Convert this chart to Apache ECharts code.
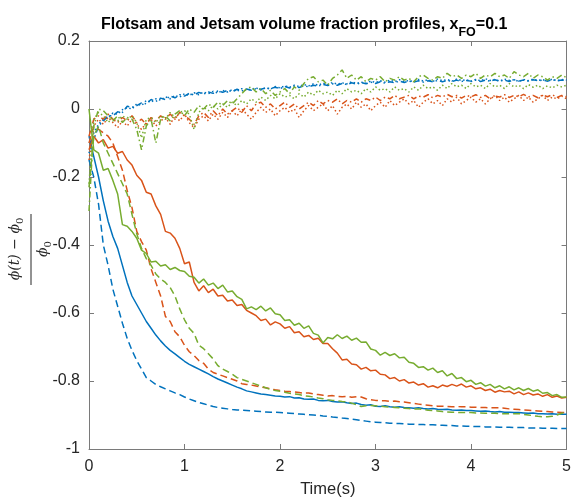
<!DOCTYPE html>
<html><head><meta charset="utf-8">
<script src="https://cdn.jsdelivr.net/npm/echarts@6/dist/echarts.min.js"></script>
<style>html,body{margin:0;padding:0;background:#fff}#c{width:574px;height:503px}</style>
</head><body><div id="c"></div>
<script>
const time = [
0,0.05,0.1,0.15,0.2,0.25,0.3,0.35,0.4,0.45,
0.5,0.55,0.6,0.65,0.7,0.75,0.8,0.85,0.9,0.95,
1,1.05,1.1,1.15,1.2,1.25,1.3,1.35,1.4,1.45,
1.5,1.55,1.6,1.65,1.7,1.75,1.8,1.85,1.9,1.95,
2,2.05,2.1,2.15,2.2,2.25,2.3,2.35,2.4,2.45,
2.5,2.55,2.6,2.65,2.7,2.75,2.8,2.85,2.9,2.95,
3,3.05,3.1,3.15,3.2,3.25,3.3,3.35,3.4,3.45,
3.5,3.55,3.6,3.65,3.7,3.75,3.8,3.85,3.9,3.95,
4,4.05,4.1,4.15,4.2,4.25,4.3,4.35,4.4,4.45,
4.5,4.55,4.6,4.65,4.7,4.75,4.8,4.85,4.9,4.95,
5];

// Jetsam (decreasing) profiles
const blueSolid = [
-0.08,-0.14,-0.20,-0.27,-0.33,-0.375,-0.41,-0.46,-0.51,-0.55,
-0.575,-0.60,-0.625,-0.645,-0.665,-0.682,-0.697,-0.71,-0.72,-0.731,
-0.742,-0.751,-0.758,-0.765,-0.772,-0.779,-0.787,-0.794,-0.80,-0.806,
-0.812,-0.818,-0.823,-0.829,-0.832,-0.835,-0.838,-0.84,-0.842,-0.844,
-0.845,-0.847,-0.846,-0.85,-0.849,-0.853,-0.854,-0.853,-0.857,-0.858,
-0.857,-0.86,-0.862,-0.861,-0.864,-0.866,-0.865,-0.869,-0.871,-0.87,
-0.874,-0.875,-0.873,-0.876,-0.877,-0.876,-0.878,-0.879,-0.88,-0.879,
-0.881,-0.882,-0.881,-0.883,-0.884,-0.883,-0.885,-0.886,-0.885,-0.887,
-0.887,-0.888,-0.889,-0.888,-0.89,-0.891,-0.89,-0.892,-0.892,-0.893,
-0.893,-0.894,-0.895,-0.894,-0.896,-0.896,-0.897,-0.896,-0.898,-0.898,
-0.898];
const blueDashed = [
-0.15,-0.20,-0.28,-0.40,-0.46,-0.53,-0.58,-0.63,-0.675,-0.71,
-0.74,-0.765,-0.79,-0.80,-0.81,-0.817,-0.823,-0.829,-0.835,-0.84,
-0.847,-0.853,-0.858,-0.863,-0.867,-0.871,-0.875,-0.878,-0.88,-0.882,
-0.884,-0.885,-0.886,-0.887,-0.888,-0.889,-0.89,-0.891,-0.892,-0.892,
-0.893,-0.894,-0.895,-0.896,-0.897,-0.898,-0.899,-0.90,-0.901,-0.903,
-0.904,-0.906,-0.907,-0.909,-0.91,-0.912,-0.914,-0.916,-0.918,-0.92,
-0.921,-0.922,-0.923,-0.924,-0.925,-0.925,-0.926,-0.927,-0.927,-0.928,
-0.928,-0.929,-0.929,-0.93,-0.93,-0.931,-0.931,-0.932,-0.932,-0.933,
-0.933,-0.934,-0.934,-0.935,-0.935,-0.935,-0.936,-0.936,-0.936,-0.937,
-0.937,-0.937,-0.938,-0.938,-0.938,-0.939,-0.939,-0.939,-0.94,-0.94,
-0.94];
const orangeSolid = [
-0.12,-0.08,-0.10,-0.09,-0.115,-0.11,-0.13,-0.125,-0.15,-0.165,
-0.195,-0.21,-0.245,-0.25,-0.285,-0.31,-0.36,-0.365,-0.38,-0.41,
-0.455,-0.45,-0.51,-0.535,-0.52,-0.54,-0.53,-0.55,-0.548,-0.565,
-0.562,-0.578,-0.575,-0.592,-0.60,-0.608,-0.622,-0.618,-0.635,-0.626,
-0.632,-0.645,-0.64,-0.658,-0.655,-0.67,-0.666,-0.678,-0.674,-0.69,
-0.69,-0.705,-0.718,-0.738,-0.736,-0.75,-0.752,-0.765,-0.76,-0.77,
-0.768,-0.78,-0.782,-0.793,-0.79,-0.80,-0.796,-0.806,-0.803,-0.812,
-0.808,-0.818,-0.814,-0.82,-0.812,-0.816,-0.81,-0.815,-0.809,-0.818,
-0.814,-0.823,-0.82,-0.828,-0.824,-0.833,-0.828,-0.832,-0.83,-0.838,
-0.832,-0.84,-0.835,-0.841,-0.838,-0.845,-0.84,-0.848,-0.844,-0.85,
-0.848];
const orangeDashed = [
-0.10,-0.05,-0.06,-0.07,-0.08,-0.10,-0.14,-0.18,-0.24,-0.29,
-0.36,-0.39,-0.415,-0.47,-0.51,-0.55,-0.61,-0.625,-0.655,-0.67,
-0.695,-0.714,-0.725,-0.74,-0.748,-0.765,-0.775,-0.78,-0.785,-0.79,
-0.795,-0.80,-0.808,-0.81,-0.812,-0.815,-0.818,-0.82,-0.823,-0.826,
-0.828,-0.83,-0.831,-0.832,-0.834,-0.836,-0.835,-0.838,-0.84,-0.842,
-0.844,-0.843,-0.845,-0.846,-0.845,-0.848,-0.846,-0.847,-0.852,-0.855,
-0.857,-0.858,-0.858,-0.86,-0.859,-0.861,-0.862,-0.864,-0.866,-0.868,
-0.87,-0.871,-0.873,-0.874,-0.874,-0.875,-0.876,-0.875,-0.876,-0.876,
-0.877,-0.877,-0.878,-0.878,-0.879,-0.879,-0.879,-0.88,-0.882,-0.883,
-0.884,-0.885,-0.886,-0.887,-0.888,-0.889,-0.89,-0.891,-0.892,-0.893,
-0.893];
const greenSolid = [
0.0,-0.12,-0.13,-0.18,-0.175,-0.21,-0.25,-0.34,-0.345,-0.36,
-0.38,-0.415,-0.425,-0.45,-0.448,-0.462,-0.458,-0.472,-0.466,-0.475,
-0.478,-0.492,-0.495,-0.512,-0.50,-0.518,-0.512,-0.528,-0.518,-0.538,
-0.535,-0.552,-0.56,-0.588,-0.582,-0.59,-0.58,-0.594,-0.585,-0.602,
-0.605,-0.622,-0.62,-0.636,-0.63,-0.645,-0.638,-0.66,-0.665,-0.688,
-0.672,-0.676,-0.664,-0.675,-0.668,-0.68,-0.674,-0.686,-0.685,-0.706,
-0.71,-0.724,-0.716,-0.725,-0.72,-0.732,-0.73,-0.745,-0.748,-0.76,
-0.758,-0.768,-0.762,-0.775,-0.77,-0.785,-0.778,-0.793,-0.79,-0.802,
-0.798,-0.81,-0.805,-0.815,-0.81,-0.82,-0.814,-0.823,-0.817,-0.826,
-0.82,-0.828,-0.822,-0.83,-0.826,-0.836,-0.834,-0.843,-0.84,-0.848,
-0.847];
const greenDashed = [
-0.23,-0.08,-0.05,-0.10,-0.13,-0.16,-0.19,-0.22,-0.25,-0.31,
-0.367,-0.41,-0.44,-0.46,-0.485,-0.50,-0.51,-0.525,-0.55,-0.588,
-0.62,-0.645,-0.66,-0.695,-0.705,-0.72,-0.735,-0.755,-0.765,-0.772,
-0.78,-0.79,-0.795,-0.80,-0.805,-0.81,-0.815,-0.82,-0.825,-0.828,
-0.83,-0.833,-0.836,-0.838,-0.84,-0.843,-0.845,-0.847,-0.85,-0.852,
-0.855,-0.857,-0.858,-0.86,-0.861,-0.865,-0.87,-0.875,-0.873,-0.872,
-0.873,-0.874,-0.876,-0.877,-0.878,-0.879,-0.88,-0.881,-0.882,-0.882,
-0.884,-0.886,-0.887,-0.888,-0.89,-0.891,-0.892,-0.892,-0.893,-0.893,
-0.893,-0.894,-0.894,-0.895,-0.895,-0.895,-0.896,-0.896,-0.896,-0.896,
-0.896,-0.898,-0.90,-0.902,-0.904,-0.905,-0.905,-0.904,-0.90,-0.895,
-0.89];

// Flotsam (increasing) profiles
const blueDotted = [
-0.13,-0.07,-0.045,-0.03,-0.025,-0.012,-0.015,-0.002,0.004,0.0,
0.015,0.01,0.025,0.02,0.03,0.026,0.036,0.03,0.04,0.035,
0.045,0.04,0.048,0.042,0.05,0.045,0.052,0.047,0.055,0.05,
0.057,0.052,0.06,0.055,0.058,0.062,0.056,0.063,0.058,0.066,
0.062,0.068,0.064,0.07,0.066,0.072,0.068,0.074,0.07,0.076,
0.072,0.078,0.073,0.077,0.074,0.08,0.075,0.079,0.076,0.082,
0.078,0.083,0.079,0.085,0.08,0.086,0.081,0.084,0.08,0.087,
0.082,0.086,0.081,0.088,0.083,0.087,0.082,0.088,0.084,0.086,
0.081,0.087,0.083,0.089,0.084,0.087,0.082,0.088,0.084,0.086,
0.081,0.087,0.083,0.088,0.084,0.086,0.082,0.088,0.083,0.087,
0.085];
const blueDashDot = [
-0.10,-0.09,-0.05,-0.035,-0.02,-0.02,-0.008,-0.01,0.008,0.005,
0.01,0.018,0.015,0.028,0.022,0.032,0.028,0.038,0.033,0.042,
0.038,0.046,0.041,0.049,0.044,0.05,0.046,0.053,0.049,0.055,
0.051,0.058,0.053,0.059,0.055,0.06,0.058,0.062,0.06,0.064,
0.06,0.066,0.062,0.067,0.063,0.069,0.065,0.07,0.067,0.072,
0.069,0.074,0.07,0.075,0.072,0.077,0.073,0.078,0.074,0.079,
0.075,0.08,0.076,0.08,0.077,0.082,0.078,0.082,0.079,0.083,
0.079,0.083,0.08,0.084,0.08,0.084,0.081,0.085,0.081,0.084,
0.082,0.085,0.081,0.085,0.082,0.086,0.082,0.085,0.081,0.086,
0.082,0.085,0.082,0.086,0.083,0.085,0.082,0.086,0.083,0.085,
0.084];
const orangeDotted = [
-0.15,-0.05,-0.03,-0.045,-0.025,-0.04,-0.055,-0.035,-0.05,-0.03,
-0.045,-0.06,-0.04,-0.03,-0.05,-0.035,-0.025,-0.045,-0.02,-0.035,
-0.015,-0.04,-0.055,-0.03,-0.02,-0.035,-0.015,-0.03,-0.01,-0.025,
-0.005,-0.02,0.0,-0.015,-0.03,-0.01,0.005,-0.01,0.0,-0.02,
-0.005,0.005,-0.01,0.0,-0.025,-0.005,0.01,-0.005,0.005,0.015,
-0.005,0.01,-0.015,0.005,0.015,0.0,0.02,0.005,0.015,-0.005,
0.01,0.02,0.005,0.025,0.01,0.02,0.03,0.015,0.025,0.005,
0.02,0.03,0.015,0.025,0.01,0.03,0.02,0.035,0.015,0.025,
0.035,0.02,0.03,0.015,0.03,0.04,0.025,0.035,0.02,0.03,
0.04,0.025,0.035,0.02,0.03,0.04,0.025,0.035,0.03,0.038,
0.03];
const orangeDashDot = [
-0.08,-0.03,-0.02,-0.03,-0.015,-0.03,-0.04,-0.025,-0.035,-0.02,
-0.04,-0.03,-0.045,-0.025,-0.035,-0.02,-0.03,-0.015,-0.03,-0.01,
-0.02,-0.03,-0.045,-0.02,-0.01,-0.025,-0.005,-0.02,0.0,-0.015,
-0.005,0.005,-0.01,0.01,-0.005,0.015,0.02,0.005,0.015,0.0,
0.01,0.02,0.005,0.015,0.0,0.01,0.02,0.01,0.025,0.015,
0.025,0.02,0.03,0.015,0.025,0.02,0.03,0.02,0.03,0.025,
0.035,0.025,0.035,0.03,0.04,0.03,0.035,0.04,0.03,0.038,
0.035,0.042,0.033,0.04,0.035,0.043,0.036,0.04,0.032,0.04,
0.036,0.042,0.034,0.04,0.03,0.038,0.035,0.042,0.034,0.04,
0.036,0.043,0.035,0.04,0.033,0.041,0.036,0.042,0.034,0.04,
0.036];
const greenDotted = [
-0.22,-0.03,-0.01,-0.02,-0.04,-0.025,-0.035,-0.02,-0.03,-0.02,
-0.04,-0.085,-0.03,-0.025,-0.04,-0.02,-0.03,-0.01,-0.025,-0.01,
-0.005,-0.015,-0.06,-0.01,0.005,-0.005,0.01,0.0,0.015,0.005,
0.02,0.01,0.025,0.015,0.03,0.02,0.035,0.025,0.04,0.03,
0.045,0.035,0.04,0.03,0.045,0.035,0.05,0.04,0.055,0.045,
0.05,0.04,0.055,0.045,0.06,0.05,0.055,0.045,0.06,0.05,
0.065,0.055,0.06,0.05,0.065,0.055,0.06,0.05,0.065,0.055,
0.07,0.06,0.065,0.055,0.07,0.06,0.075,0.065,0.07,0.06,
0.075,0.065,0.07,0.06,0.075,0.065,0.07,0.06,0.075,0.065,
0.07,0.06,0.072,0.064,0.07,0.06,0.068,0.062,0.07,0.065,
0.07];
const greenDashDot = [
-0.30,-0.05,0.0,-0.005,-0.02,-0.035,-0.02,-0.04,-0.025,-0.03,
-0.06,-0.12,-0.05,-0.03,-0.10,-0.03,-0.02,-0.035,-0.015,-0.005,
-0.02,0.0,-0.01,0.01,0.0,0.015,0.005,0.02,0.01,0.025,
0.015,0.03,0.045,0.06,0.065,0.05,0.06,0.045,0.055,0.04,
0.05,0.06,0.045,0.065,0.055,0.075,0.09,0.095,0.08,0.085,
0.07,0.09,0.10,0.115,0.09,0.10,0.085,0.095,0.08,0.09,
0.085,0.095,0.08,0.09,0.085,0.095,0.085,0.09,0.08,0.095,
0.10,0.09,0.085,0.095,0.09,0.105,0.095,0.10,0.09,0.10,
0.095,0.105,0.09,0.10,0.095,0.105,0.095,0.10,0.09,0.11,
0.10,0.095,0.105,0.09,0.10,0.095,0.085,0.095,0.09,0.10,
0.092];

const xTicks = [0, 1, 2, 3, 4, 5];
const yTicks = [-1, -0.8, -0.6, -0.4, -0.2, 0, 0.2];

const BLUE = '#0072BD', ORANGE = '#D95319', GREEN = '#77AC30';
const DASH = [7, 4], DOT = [1.5, 2.5], DASHDOT = [6, 3, 1.5, 3];

function mk(name, ys, color, type) {
  return {
    name: name, type: 'line', showSymbol: false, symbol: 'none', silent: true,
    animation: false, xAxisIndex: 0, yAxisIndex: 0,
    data: time.map(function (t, i) { return [t, ys[i]]; }),
    lineStyle: { color: color, width: 1.5, type: type, cap: 'butt' }
  };
}

const axisCol = '#7a7a7a';
const lblCol = '#262626';
const font = 'Liberation Sans, Arial, Helvetica, sans-serif';
function fmt(v) { var r = Math.round(v * 10) / 10; return r === 0 ? '0' : String(r); }

const chart = echarts.init(document.getElementById('c'), null, { renderer: 'canvas' });
chart.setOption({
  backgroundColor: '#fff',
  animation: false,
  title: {
    text: '{a|Flotsam and Jetsam volume fraction profiles, x}{s|FO}{a|=0.1}',
    left: 96, top: 5,
    textStyle: {
      rich: {
        a: { fontFamily: font, fontWeight: 'bold', fontSize: 16, color: '#000', lineHeight: 29 },
        s: { fontFamily: font, fontWeight: 'bold', fontSize: 12.5, color: '#000', lineHeight: 12, verticalAlign: 'bottom' }
      }
    }
  },
  grid: { left: 89, right: 6, top: 41, bottom: 47, containLabel: false },
  xAxis: [{
    type: 'value', min: xTicks[0], max: xTicks[xTicks.length - 1], interval: 1, position: 'bottom',
    axisLine: { show: true, onZero: false, lineStyle: { color: axisCol, width: 1 } },
    axisTick: { show: true, inside: true, length: 5, lineStyle: { color: axisCol } },
    axisLabel: { color: lblCol, fontSize: 16, fontFamily: font, margin: 10 },
    splitLine: { show: false },
    name: 'Time(s)', nameLocation: 'middle', nameGap: 32,
    nameTextStyle: { color: lblCol, fontSize: 16.5, fontFamily: font, verticalAlign: 'top' }
  }, {
    type: 'value', min: 0, max: 5, interval: 1, position: 'top',
    axisLine: { show: true, onZero: false, lineStyle: { color: axisCol, width: 1 } },
    axisTick: { show: true, inside: true, length: 5, lineStyle: { color: axisCol } },
    axisLabel: { show: false }, splitLine: { show: false }
  }],
  yAxis: [{
    type: 'value', min: yTicks[0], max: yTicks[yTicks.length - 1], interval: 0.2, position: 'left',
    axisLine: { show: true, onZero: false, lineStyle: { color: axisCol, width: 1 } },
    axisTick: { show: true, inside: true, length: 5, lineStyle: { color: axisCol } },
    axisLabel: { color: lblCol, fontSize: 16, fontFamily: font, margin: 9, formatter: fmt },
    splitLine: { show: false }
  }, {
    type: 'value', min: -1, max: 0.2, interval: 0.2, position: 'right',
    axisLine: { show: true, onZero: false, lineStyle: { color: axisCol, width: 1 } },
    axisTick: { show: true, inside: true, length: 5, lineStyle: { color: axisCol } },
    axisLabel: { show: false }, splitLine: { show: false }
  }],
  graphic: [
    { type: 'text', x: 15, y: 249, rotation: Math.PI / 2, silent: true,
      style: { text: '{i|ϕ(t)}{n| − }{i|ϕ}{s|0}', align: 'center', verticalAlign: 'middle',
        rich: {
          i: { fontFamily: 'DejaVu Serif', fontStyle: 'italic', fontSize: 14, fill: lblCol, lineHeight: 20 },
          n: { fontFamily: 'DejaVu Serif', fontSize: 14, fill: lblCol, lineHeight: 20 },
          s: { fontFamily: 'DejaVu Serif', fontSize: 10, fill: lblCol, lineHeight: 10, verticalAlign: 'bottom' }
        } } },
    { type: 'line', silent: true, shape: { x1: 31, y1: 214, x2: 31, y2: 285 }, style: { stroke: lblCol, lineWidth: 1 } },
    { type: 'text', x: 43, y: 249, rotation: Math.PI / 2, silent: true,
      style: { text: '{i|ϕ}{s|0}', align: 'center', verticalAlign: 'middle',
        rich: {
          i: { fontFamily: 'DejaVu Serif', fontStyle: 'italic', fontSize: 14, fill: lblCol, lineHeight: 20 },
          s: { fontFamily: 'DejaVu Serif', fontSize: 10, fill: lblCol, lineHeight: 10, verticalAlign: 'bottom' }
        } } }
  ],
  series: [
    mk('blue solid', blueSolid, BLUE, 'solid'),
    mk('blue dashed', blueDashed, BLUE, DASH),
    mk('blue dotted', blueDotted, BLUE, DOT),
    mk('blue dash-dot', blueDashDot, BLUE, DASHDOT),
    mk('orange solid', orangeSolid, ORANGE, 'solid'),
    mk('orange dashed', orangeDashed, ORANGE, DASH),
    mk('orange dotted', orangeDotted, ORANGE, DOT),
    mk('orange dash-dot', orangeDashDot, ORANGE, DASHDOT),
    mk('green solid', greenSolid, GREEN, 'solid'),
    mk('green dashed', greenDashed, GREEN, DASH),
    mk('green dotted', greenDotted, GREEN, DOT),
    mk('green dash-dot', greenDashDot, GREEN, DASHDOT)
  ]
});
</script>
</body></html>
